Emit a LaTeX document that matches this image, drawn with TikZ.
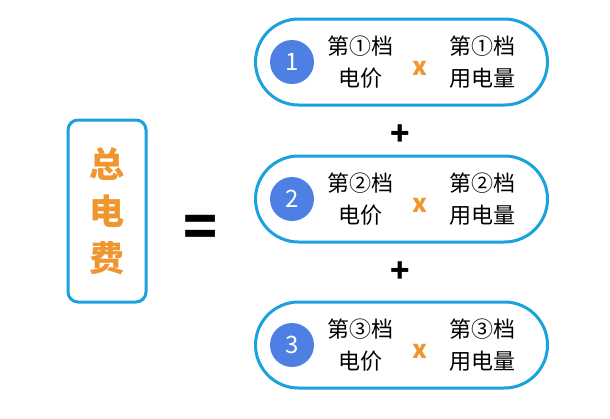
\documentclass[tikz,border=0pt]{standalone}
\usepackage{fontspec}
\newfontfamily\cjk{Noto Sans CJK SC}
\usepackage{xcolor}
\definecolor{pillblue}{RGB}{27,161,219}
\definecolor{numblue}{RGB}{78,128,228}
\definecolor{feeorange}{RGB}{240,150,46}
\usepackage{tikz}
\usetikzlibrary{positioning}

\begin{document}
\begin{tikzpicture}[x=1pt,y=-1pt,
      pill/.style={rectangle,draw=pillblue,line width=3pt,fill=white,
                   minimum width=292pt,minimum height=86pt,rounded corners=43pt},
      num/.style={circle,fill=numblue,minimum size=44pt,inner sep=0pt,
                  text=white,font=\cjk\fontsize{24}{24}\selectfont},
      txt/.style={align=center,font=\cjk\fontsize{22}{32}\selectfont},
      times/.style={text=feeorange,font=\cjk\bfseries\fontsize{25}{25}\selectfont},
      op/.style={font=\cjk\bfseries\fontsize{32}{32}\selectfont}]
    \useasboundingbox (0,0) rectangle (610,418);
    % left box
    \node[rectangle,draw=pillblue,line width=3pt,rounded corners=10pt,
          minimum width=78pt,minimum height=182pt,align=center,text=feeorange,
          font=\cjk\bfseries\fontsize{35}{47}\selectfont] (total) at (107,211) {总\\电\\费};
    \node[font=\cjk\bfseries\fontsize{56}{56}\selectfont] (eq) at (201,231) {=};
    % three tiers
    \foreach \i/\y/\c in {1/62/①,2/199/②,3/345/③}{
      \node[pill] (tier\i) at (401.5,\y) {};
      \node[num] (n\i) at (292,\y) {\i};
      \node[txt] (price\i) at (360,\y) {第\c 档\\电价};
      \node[times] (x\i) at (420,\y+6) {x};
      \node[txt] (use\i) at (482,\y) {第\c 档\\用电量};
    }
    \node[op] (plusa) at (400,135) {+};
    \node[op] (plusb) at (400,272) {+};
  \end{tikzpicture}
\end{document}
